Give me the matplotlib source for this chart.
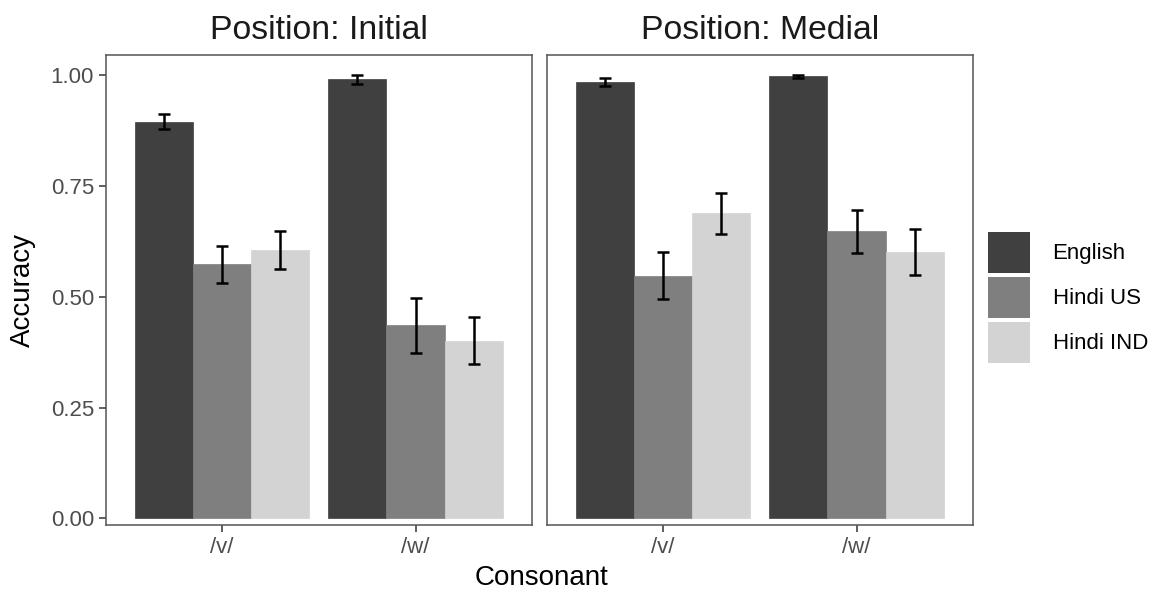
import matplotlib
matplotlib.use("Agg")
import matplotlib.pyplot as plt
import numpy as np
from matplotlib.patches import Patch

plt.rcParams['font.family'] = ['Liberation Sans', 'DejaVu Sans']

positions = ["Position: Initial", "Position: Medial"]
consonants = ["/v/", "/w/"]
groups = ["English", "Hindi US", "Hindi IND"]
colors = ["#404040", "#7f7f7f", "#d3d3d3"]

# values[position][group][consonant]
means = {
    "Position: Initial": {
        "English":   [0.895, 0.990],
        "Hindi US":  [0.573, 0.436],
        "Hindi IND": [0.606, 0.401],
    },
    "Position: Medial": {
        "English":   [0.985, 0.997],
        "Hindi US":  [0.547, 0.647],
        "Hindi IND": [0.688, 0.600],
    },
}
errs = {
    "Position: Initial": {
        "English":   [0.017, 0.011],
        "Hindi US":  [0.042, 0.062],
        "Hindi IND": [0.043, 0.052],
    },
    "Position: Medial": {
        "English":   [0.009, 0.003],
        "Hindi US":  [0.053, 0.048],
        "Hindi IND": [0.046, 0.052],
    },
}

W, H = 1156, 593
fig = plt.figure(figsize=(W / 100, H / 100), dpi=100)

panel_left = [105.7, 546.7]
panel_w = 426.0
panel_top, panel_bot = 55.0, 525.0

x = np.arange(1, len(consonants) + 1)
bw = 0.3
for pi, pos in enumerate(positions):
    ax = fig.add_axes([panel_left[pi] / W, 1 - panel_bot / H,
                       panel_w / W, (panel_bot - panel_top) / H])
    for gi, g in enumerate(groups):
        xs = x + (gi - 1) * bw
        ax.bar(xs, means[pos][g], width=bw, color=colors[gi],
               edgecolor=colors[gi], linewidth=0.5, zorder=2)
        ax.errorbar(xs, means[pos][g], yerr=errs[pos][g], fmt='none',
                    ecolor='black', elinewidth=1.8, capsize=4.6,
                    capthick=1.8, zorder=3)
    ax.set_xlim(0.4, 2.6)
    ax.set_ylim(-0.015, 1.045)
    ax.set_xticks(x)
    ax.set_xticklabels(consonants)
    ax.set_yticks([0, 0.25, 0.5, 0.75, 1.0])
    if pi == 0:
        ax.set_yticklabels(["0.00", "0.25", "0.50", "0.75", "1.00"])
    else:
        ax.tick_params(axis='y', left=False, labelleft=False)
    ax.tick_params(axis='both', colors='#333333', labelcolor='#4d4d4d',
                   labelsize=16, length=5, width=1.1, pad=3.5)
    for s in ax.spines.values():
        s.set_color('#555555')
        s.set_linewidth(1.1)
    ax.set_title(pos, fontsize=24.3, color='#1a1a1a', pad=11.5)

fig.text(23 / W, 1 - 290 / H, "Accuracy", fontsize=20, rotation=90,
         ha='center', va='center')
fig.text(541.5 / W, 1 - 578 / H, "Consonant", fontsize=20,
         ha='center', va='center')

handles = [Patch(facecolor=c, edgecolor='none') for c in colors]
leg = fig.legend(handles, groups, loc='center left',
                 bbox_to_anchor=(988.3 / W, 1 - 297.5 / H), frameon=False,
                 fontsize=16, handlelength=1.89, handleheight=2.46,
                 labelspacing=0.18, handletextpad=1.0, borderaxespad=0,
                 borderpad=0)

fig.savefig("out.png", dpi=100)
